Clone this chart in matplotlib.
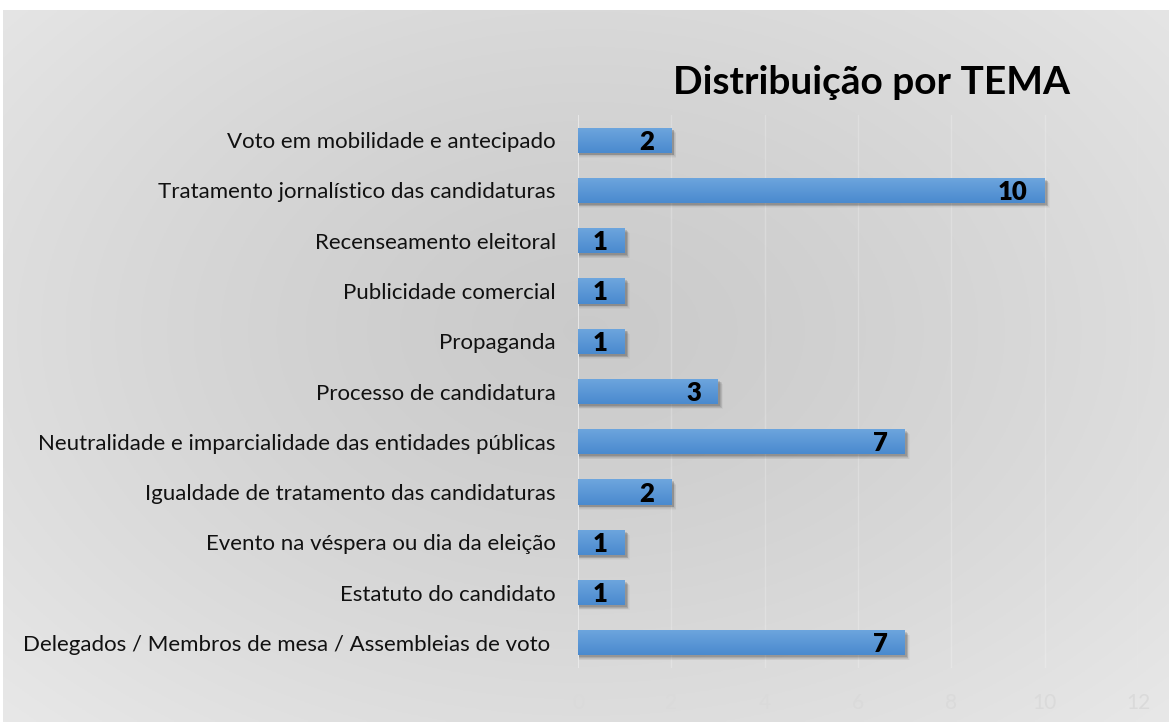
import numpy as np
import matplotlib.pyplot as plt
from matplotlib.patches import Rectangle

# data (bottom to top)
temas = ['Delegados / Membros de mesa / Assembleias de voto ',
         'Estatuto do candidato',
         'Evento na véspera ou dia da eleição',
         'Igualdade de tratamento das candidaturas',
         'Neutralidade e imparcialidade das entidades públicas',
         'Processo de candidatura',
         'Propaganda',
         'Publicidade comercial',
         'Recenseamento eleitoral',
         'Tratamento jornalístico das candidaturas',
         'Voto em mobilidade e antecipado']
valores = [7, 1, 1, 2, 7, 3, 1, 1, 1, 10, 2]
xticks = [0, 2, 4, 6, 8, 10, 12]

plt.rcParams['font.family'] = ['Lato', 'DejaVu Sans']

W, H = 1169, 722
fig = plt.figure(figsize=(W / 100, H / 100), dpi=100)
fig.patch.set_facecolor('white')

# radial gray background
bg = fig.add_axes([3 / W, 0, 1 - 3 / W, 1 - 10 / H])
bg.set_axis_off()
yy, xx = np.mgrid[0:1:300j, 0:1:500j]
r = np.sqrt(((xx - 0.5) * 1.0) ** 2 + ((yy - 0.45) * 0.9) ** 2)
r = r / r.max()
g = 0.795 + 0.115 * r ** 1.3
bg.imshow(np.dstack([g, g, g]), aspect='auto', extent=[0, 1, 0, 1])
bg.set_xlim(0, 1)
bg.set_ylim(0, 1)

ax = fig.add_axes([578 / W, (H - 668) / H, (1138 - 578) / W, 553 / H])
ax.patch.set_alpha(0)
ax.set_xlim(0, 12)
ax.set_ylim(-0.5, len(temas) - 0.5)

for x in xticks[1:]:
    ax.axvline(x, color='white', lw=1, alpha=0.22, zorder=0)
ax.axvline(-0.02, color='#eaeaea', lw=2, zorder=1)

h = 0.5
grad = np.linspace(0, 1, 50).reshape(-1, 1)
top = np.array([0.43, 0.65, 0.87])
bot = np.array([0.29, 0.54, 0.81])
img = bot[None, None, :] * (1 - grad[:, :, None]) + top[None, None, :] * grad[:, :, None]
for i, v in enumerate(valores):
    # shadow
    for k, a in enumerate([0.12, 0.09, 0.06, 0.04, 0.03]):
        ax.add_patch(Rectangle((0.02, i - h / 2 - 0.04 - 0.015 * k), v + 0.03 + 0.015 * k, h,
                               color='black', alpha=a, lw=0, zorder=2))
    im = ax.imshow(img, extent=[0, v, i - h / 2, i + h / 2], aspect='auto',
                   origin='lower', zorder=3)
    rect = Rectangle((0, i - h / 2), v, h, transform=ax.transData, fc='none', lw=0)
    ax.add_patch(rect)
    im.set_clip_path(rect)
    ax.text(v - 0.36, i - 0.03, str(v), ha='right', va='center', fontsize=18.5,
            fontweight='heavy', color='black', zorder=4)

ax.set_aspect('auto')
ax.set_xlim(0, 12)
ax.set_ylim(-0.5, len(temas) - 0.5)
ax.set_yticks(range(len(temas)))
ax.set_yticklabels(temas, fontsize=16, color='#111111')
ax.set_xticks(xticks)
ax.set_xticklabels([str(t) for t in xticks], fontsize=15, color='#dadada')
ax.tick_params(axis='y', length=0, pad=16)
ax.tick_params(axis='x', length=0, pad=18)
for s in ax.spines.values():
    s.set_visible(False)

fig.text(1070 / W, 1 - 82 / H, 'Distribuição por TEMA', ha='right', va='center',
         fontsize=28, fontweight='bold', color='black')

fig.savefig('out.png', dpi=100, facecolor='white')
